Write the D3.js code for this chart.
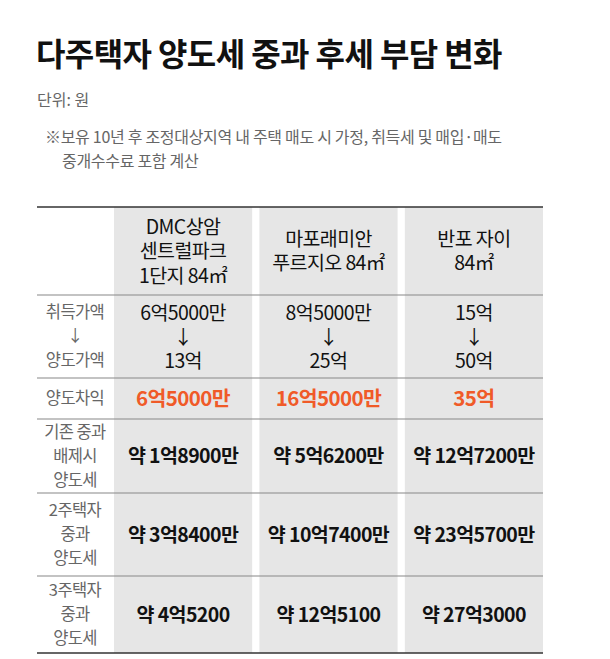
<!DOCTYPE html><html><head><meta charset="utf-8">
<script src="https://cdn.jsdelivr.net/npm/d3@7"></script>
<style>body{margin:0;background:#fff}text{font-family:"Noto Sans CJK KR","Noto Sans",sans-serif}</style></head><body>
<svg id="c" width="610" height="659"></svg>
<script>
const title="다주택자 양도세 중과 후세 부담 변화";
const unit="단위: 원";
const notes=["※보유 10년 후 조정대상지역 내 주택 매도 시 가정, 취득세 및 매입·매도","중개수수료 포함 계산"];
const apartments=[["DMC상암","센트럴파크","1단지 84㎡"],["마포래미안","푸르지오 84㎡"],["반포 자이","84㎡"]];
const rowLabels=[["취득가액","↓","양도가액"],["양도차익"],["기존 중과","배제시","양도세"],["2주택자","중과","양도세"],["3주택자","중과","양도세"]];
const acquisition=["6억5000만","8억5000만","15억"];
const sale=["13억","25억","50억"];
const gain=["6억5000만","16억5000만","35억"];
const taxBase=["약 1억8900만","약 5억6200만","약 12억7200만"];
const tax2=["약 3억8400만","약 10억7400만","약 23억5700만"];
const tax3=["약 4억5200","약 12억5100","약 27억3000"];

const svg=d3.select("#c");
svg.append("text").attr("x",36).attr("y",66).attr("font-size",32).attr("font-weight",700).attr("fill","#111").attr("letter-spacing",-0.6).text(title);
svg.append("text").attr("x",37).attr("y",106).attr("font-size",16).attr("fill","#666").text(unit);
notes.forEach((n,i)=>svg.append("text").attr("x",i?62:45).attr("y",143+i*24).attr("font-size",16).attr("fill","#666").attr("letter-spacing",-0.3).text(n));

const x=d3.scaleBand().domain([0,1,2]).range([114,543]).paddingInner(0.05);
const rowEdges=[207,295,378,419,493,576,653];
const y=d3.scaleOrdinal().domain(d3.range(6)).range(rowEdges.slice(0,6));
const h=i=>rowEdges[i+1]-rowEdges[i];
svg.selectAll("rect.band").data([0,1,2]).join("rect").attr("x",d=>x(d)).attr("y",rowEdges[0]).attr("width",x.bandwidth()).attr("height",rowEdges[6]-rowEdges[0]).attr("fill","#e6e6e6");
rowEdges.forEach((e,i)=>svg.append("line").attr("x1",37).attr("x2",543).attr("y1",e).attr("y2",e).attr("stroke",(i==0||i==6)?"#333":"#888").attr("stroke-width",(i==0||i==6)?1.5:1.2));
function lines(cx,cy,arr,lh,opts){
  const n=arr.length;
  arr.forEach((t,k)=>{svg.append("text").attr("x",cx).attr("y",cy+(k-(n-1)/2)*lh).attr("dy","0.36em").attr("text-anchor","middle").attr("font-size",opts.size).attr("fill",opts.fill).attr("font-weight",opts.weight||400).attr("letter-spacing",opts.ls||-0.6).text(t);});
}
const cx=i=>x(i)+x.bandwidth()/2;
const cy=r=>y(r)+h(r)/2;
apartments.forEach((a,i)=>lines(cx(i),cy(0),a,24.5,{size:19.5,fill:"#111"}));
rowLabels.forEach((l,r)=>lines(75,cy(r+1),l,24,{size:16.5,fill:"#666"}));
[0,1,2].forEach(i=>{
  lines(cx(i),cy(1),[acquisition[i],"↓",sale[i]],24,{size:19.5,fill:"#111"});
  lines(cx(i),cy(2),[gain[i]],24,{size:20.5,fill:"#f05a28",weight:700});
  lines(cx(i),cy(3),[taxBase[i]],24,{size:19.5,fill:"#111",weight:700});
  lines(cx(i),cy(4),[tax2[i]],24,{size:19.5,fill:"#111",weight:700});
  lines(cx(i),cy(5),[tax3[i]],24,{size:19.5,fill:"#111",weight:700});
});
</script></body></html>
